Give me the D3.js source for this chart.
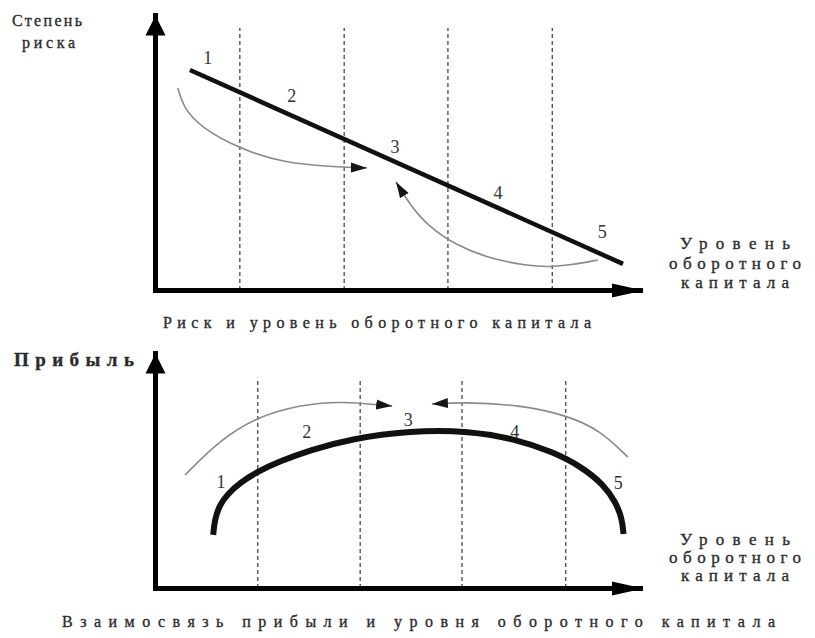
<!DOCTYPE html>
<html>
<head>
<meta charset="utf-8">
<script src="https://cdn.jsdelivr.net/npm/d3@7"></script>
<style>
body { margin: 0; background: #fff; }
svg text { font-family: "Liberation Serif", "DejaVu Serif", serif !important; fill: #2b2b2b; stroke: #2b2b2b; stroke-width: 0.35; }
</style>
</head>
<body>
<div class="chart"></div>
<script>
var width = 815, height = 638;
var serif = "'Liberation Serif', 'DejaVu Serif', serif";

// x: level of working capital, y: risk / profit (both 0..100)
var zoneLabels = ["1", "2", "3", "4", "5"];

// top panel: risk vs working capital
var riskBreaks = [17.5, 39.0, 60.4, 81.9];
var riskLine = [[7.2, 80.0], [96.5, 9.5]];
var riskLabelPos = [[10.9, 84.4], [28.2, 70.9], [49.5, 52.0], [70.7, 35.6], [92.2, 21.1]];
var riskArrowA = [[4.7, 73.5], [5.8, 66.5], [9.3, 59.3], [17.5, 51.3], [26.4, 46.2], [37.5, 44.7], [43.7, 44.4]];
var riskArrowB = [[91.3, 10.9], [85.6, 9.1], [81.4, 8.4], [77.3, 8.7], [69.1, 11.3], [61.9, 16.4], [56.3, 23.3], [52.6, 30.9], [49.7, 39.3]];

// bottom panel: profit vs working capital
var profitBreaks = [21.2, 42.3, 63.3, 84.7];
var profitCurve = [[12.0, 22.6], [12.3, 29.0], [13.3, 35.3], [15.0, 40.0], [17.5, 44.7], [21.0, 49.4], [25.8, 54.0],
  [32.0, 58.7], [40.2, 63.4], [52.6, 67.0], [65.0, 66.8], [74.0, 63.5], [82.0, 58.0], [88.0, 51.5], [92.5, 44.0],
  [95.0, 36.5], [96.3, 29.5], [96.6, 23.0]];
var profitLabelPos = [[13.6, 45.5], [31.3, 66.4], [52.2, 71.5], [74.2, 66.4], [95.5, 44.7]];
var profitArrowA = [[6.2, 48.1], [13.4, 63.0], [21.0, 72.8], [29.9, 77.9], [38.1, 79.6], [48.9, 77.4]];
var profitArrowB = [[97.5, 55.7], [91.8, 67.2], [84.7, 73.6], [75.3, 77.9], [63.5, 79.1], [57.1, 78.3]];

var svg = d3.select(".chart")
    .append("svg")
    .attr("width", width)
    .attr("height", height)
    .style("font-family", serif);

svg.append("rect")
    .attr("width", width)
    .attr("height", height)
    .attr("fill", "#fff");

var defs = svg.append("defs");

defs.append("marker")
    .attr("id", "headX")
    .attr("markerUnits", "userSpaceOnUse")
    .attr("viewBox", "0 -8 32 16")
    .attr("markerWidth", 32).attr("markerHeight", 16)
    .attr("refX", 29).attr("refY", 0)
    .attr("orient", "auto")
  .append("path")
    .attr("d", "M0,-7L32,0L0,7Z")
    .attr("fill", "#000");

defs.append("marker")
    .attr("id", "headY")
    .attr("markerUnits", "userSpaceOnUse")
    .attr("viewBox", "0 -11 20 22")
    .attr("markerWidth", 20).attr("markerHeight", 22)
    .attr("refX", 20).attr("refY", 0)
    .attr("orient", "auto")
  .append("path")
    .attr("d", "M0,-10L20,0L0,10Z")
    .attr("fill", "#000");

defs.append("marker")
    .attr("id", "headSmall")
    .attr("markerUnits", "userSpaceOnUse")
    .attr("viewBox", "0 -6 16 12")
    .attr("markerWidth", 16).attr("markerHeight", 12)
    .attr("refX", 16).attr("refY", 0)
    .attr("orient", "auto")
  .append("path")
    .attr("d", "M0,-5L16,0L0,5Z")
    .attr("fill", "#151515");

function drawPanel(opt) {
  var x = d3.scaleLinear().domain([0, 100]).range([155, 640]);
  var y = d3.scaleLinear().domain([0, 100]).range([opt.axisY, opt.tipY]);
  var g = svg.append("g");

  // dashed zone borders
  g.selectAll(".zone")
    .data(opt.breaks)
    .enter().append("line")
    .attr("x1", d => x(d)).attr("x2", d => x(d))
    .attr("y1", y(0)).attr("y2", y(opt.dashTop))
    .attr("stroke", "#111")
    .attr("stroke-width", 1)
    .attr("stroke-dasharray", "4,3");

  // axes (no ticks, only the arrowed lines)
  var ax = g.append("g")
      .attr("transform", "translate(0," + opt.axisY + ")")
      .call(d3.axisBottom(x).tickValues([]).tickSizeOuter(0));
  ax.select(".domain")
      .attr("stroke", "#000").attr("stroke-width", 5)
      .attr("stroke-linecap", "square")
      .attr("marker-end", "url(#headX)");

  var ay = g.append("g")
      .attr("transform", "translate(155,0)")
      .call(d3.axisLeft(y).tickValues([]).tickSizeOuter(0));
  ay.select(".domain")
      .attr("stroke", "#000").attr("stroke-width", 5)
      .attr("stroke-linecap", "square")
      .attr("marker-end", "url(#headY)");

  var line = d3.line().x(d => x(d[0])).y(d => y(d[1]));

  // grey direction arrows
  [opt.arrowA, opt.arrowB].forEach(function(pts) {
    g.append("path")
      .attr("d", line.curve(d3.curveBasis)(pts))
      .attr("fill", "none")
      .attr("stroke", "#8a8a8a")
      .attr("stroke-width", 1.6)
      .attr("marker-end", "url(#headSmall)");
  });

  // main curve
  g.append("path")
    .attr("d", line.curve(opt.curve)(opt.main))
    .attr("fill", "none")
    .attr("stroke", "#111")
    .attr("stroke-width", opt.mainWidth);

  g.selectAll(".num")
    .data(opt.labelPos)
    .enter().append("text")
    .attr("x", d => x(d[0]))
    .attr("y", d => y(d[1]))
    .attr("dy", "0.36em")
    .attr("text-anchor", "middle")
    .attr("font-size", 18)
    .style("font-family", serif)
    .style("fill", "#333")
    .style("stroke-width", 0)
    .text((d, i) => zoneLabels[i]);

  // x axis title at the right
  g.selectAll(".xt")
    .data(opt.xTitle)
    .enter().append("text")
    .attr("x", 735)
    .attr("y", d => d.y)
    .attr("text-anchor", "middle")
    .attr("font-size", 17)
    .style("font-family", serif)
    .attr("textLength", d => d.w)
    .attr("lengthAdjust", "spacing")
    .text(d => d.t);

  g.selectAll(".yt")
    .data(opt.yTitle)
    .enter().append("text")
    .attr("x", d => d.x)
    .attr("y", d => d.y)
    .attr("font-size", d => d.s)
    .attr("font-weight", d => d.b ? "bold" : "normal")
    .style("font-family", serif)
    .attr("textLength", d => d.w)
    .attr("lengthAdjust", "spacing")
    .text(d => d.t);

  g.append("text")
    .attr("x", opt.caption.x)
    .attr("y", opt.caption.y)
    .attr("font-size", 16)
    .style("font-family", serif)
    .attr("textLength", opt.caption.w)
    .attr("lengthAdjust", "spacing")
    .text(opt.caption.t);
}

drawPanel({
  axisY: 290, tipY: 15, dashTop: 95.3,
  breaks: riskBreaks,
  main: riskLine, curve: d3.curveLinear, mainWidth: 4.5,
  labelPos: riskLabelPos,
  arrowA: riskArrowA, arrowB: riskArrowB,
  xTitle: [{t: "Уровень", y: 249, w: 110}, {t: "оборотного", y: 269, w: 132}, {t: "капитала", y: 288, w: 108}],
  yTitle: [{t: "Степень", x: 12, y: 26, w: 70, s: 16}, {t: "риска", x: 22, y: 48, w: 53, s: 16}],
  caption: {t: "Риск и уровень оборотного капитала", x: 163, y: 328, w: 428}
});

drawPanel({
  axisY: 588, tipY: 353, dashTop: 89.4,
  breaks: profitBreaks,
  main: profitCurve, curve: d3.curveBasis, mainWidth: 6,
  labelPos: profitLabelPos,
  arrowA: profitArrowA, arrowB: profitArrowB,
  xTitle: [{t: "Уровень", y: 545, w: 110}, {t: "оборотного", y: 563, w: 132}, {t: "капитала", y: 581, w: 108}],
  yTitle: [{t: "Прибыль", x: 14, y: 366, w: 120, s: 19, b: true}],
  caption: {t: "Взаимосвязь прибыли и уровня оборотного капитала", x: 62, y: 627, w: 713}
});
</script>
</body>
</html>
